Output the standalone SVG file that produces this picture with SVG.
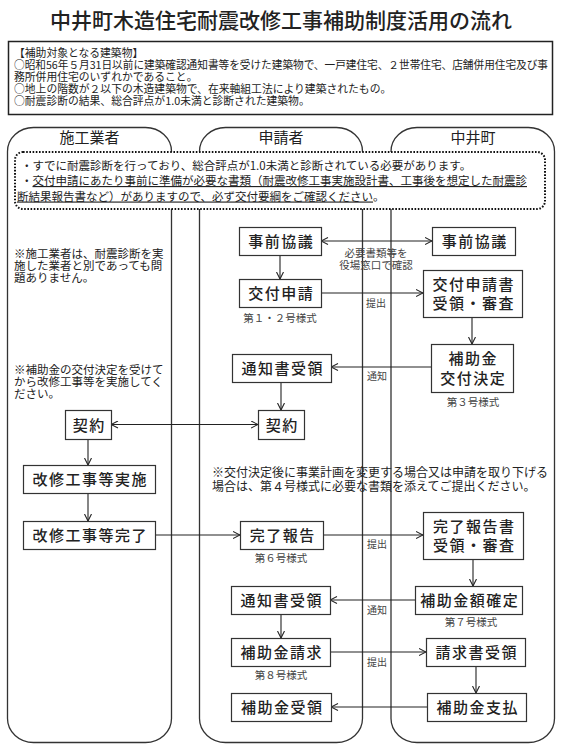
<svg xmlns="http://www.w3.org/2000/svg" width="562" height="749" viewBox="0 0 562 749">
<style>
text { font-family: "Noto Sans CJK JP", "Noto Sans CJK SC", sans-serif; fill: #222; }
.title { font-size: 21px; text-anchor: middle; font-weight: 500; }
.info { font-size: 10.8px; }
.dot { font-size: 11.5px; }
.note { font-size: 11.5px; }
.head { font-size: 15px; text-anchor: middle; }
.lane { fill: #fff; stroke: #333; stroke-width: 1.3; }
.node rect { fill: #fff; stroke: #333; stroke-width: 1.2; }
.node text { font-size: 15px; letter-spacing: 1.5px; text-anchor: middle; font-weight: 500; }
.sub { font-size: 10.5px; fill: #444; text-anchor: middle; }
.gap { font-size: 10px; fill: #444; text-anchor: middle; }
.conn line { stroke: #222; stroke-width: 1.1; fill: none; marker-end: url(#ah); }
.conn line.both { marker-start: url(#ah); }
</style>
<defs>
<marker id="ah" viewBox="0 0 8 8" refX="7.5" refY="4" markerWidth="8" markerHeight="8" markerUnits="userSpaceOnUse" orient="auto-start-reverse">
<path d="M0.5,0.5 L7.5,4 L0.5,7.5" fill="none" stroke="#222" stroke-width="1.1"/>
</marker>
</defs>
<rect width="562" height="749" fill="#fff"/>
<text class="title" x="281" y="28">中井町木造住宅耐震改修工事補助制度活用の流れ</text>
<g id="info">
<rect x="8.5" y="41.5" width="544" height="73" fill="#fff" stroke="#222" stroke-width="1.5"/>
<text class="info"><tspan x="14" y="57">【補助対象となる建築物】</tspan><tspan x="14" y="69" textLength="534" lengthAdjust="spacingAndGlyphs">○昭和56年５月31日以前に建築確認通知書等を受けた建築物で、一戸建住宅、２世帯住宅、店舗併用住宅及び事</tspan><tspan x="14" y="81">務所併用住宅のいずれかであること。</tspan><tspan x="14" y="93">○地上の階数が２以下の木造建築物で、在来軸組工法により建築されたもの。</tspan><tspan x="14" y="105">○耐震診断の結果、総合評点が1.0未満と診断された建築物。</tspan></text>
</g>
<g id="lanes">
<g id="lane-contractor"><rect class="lane" x="7.5" y="127.5" width="164" height="615" rx="26" ry="24"/><text class="head" x="89.5" y="143">施工業者</text></g>
<g id="lane-applicant"><rect class="lane" x="199.5" y="127.5" width="163" height="615" rx="26" ry="24"/><text class="head" x="281" y="143">申請者</text></g>
<g id="lane-town"><rect class="lane" x="391" y="127.5" width="163.5" height="615" rx="26" ry="24"/><text class="head" x="473" y="143">中井町</text></g>
</g>
<g id="notice">
<rect x="15" y="152" width="530" height="57" rx="8" fill="#fff" stroke="#111" stroke-width="2" stroke-dasharray="1.6 1.6"/>
<text class="dot"><tspan x="21" y="169.5">・すでに耐震診断を行っており、総合評点が1.0未満と診断されている必要があります。</tspan><tspan x="21" y="185">・</tspan><tspan text-decoration="underline">交付申請にあたり事前に準備が必要な書類（耐震改修工事実施設計書、工事後を想定した耐震診</tspan><tspan x="17" y="200.5" text-decoration="underline">断結果報告書など）がありますので、必ず交付要綱をご確認ください</tspan><tspan>。</tspan></text>
</g>
<g id="notes">
<text class="note"><tspan x="14" y="258">※施工業者は、耐震診断を実</tspan><tspan x="14" y="270">施した業者と別であっても問</tspan><tspan x="14" y="282">題ありません。</tspan></text>
<text class="note"><tspan x="14" y="374">※補助金の交付決定を受けて</tspan><tspan x="14" y="386">から改修工事等を実施してく</tspan><tspan x="14" y="398">ださい。</tspan></text>
<text class="note" style="font-size:12px"><tspan x="212" y="477">※交付決定後に事業計画を変更する場合又は申請を取り下げる</tspan><tspan x="212" y="491">場合は、第４号様式に必要な書類を添えてご提出ください。</tspan></text>
</g>
<g class="conn" id="connectors">
<line class="both" x1="321" y1="241" x2="432" y2="241"/>
<line x1="280" y1="255" x2="280" y2="279"/>
<line x1="321" y1="293" x2="423" y2="293"/>
<line x1="472" y1="317" x2="472" y2="344"/>
<line x1="431" y1="367" x2="331" y2="367"/>
<line x1="281" y1="382" x2="281" y2="410"/>
<line class="both" x1="111" y1="424.5" x2="258" y2="424.5"/>
<line x1="88" y1="439" x2="88" y2="465"/>
<line x1="88" y1="493" x2="88" y2="521"/>
<line x1="155" y1="535" x2="240" y2="535"/>
<line x1="323" y1="535" x2="423" y2="535"/>
<line x1="473" y1="559" x2="473" y2="586"/>
<line x1="415" y1="600" x2="330" y2="600"/>
<line x1="281" y1="614" x2="281" y2="638"/>
<line x1="330" y1="652" x2="426" y2="652"/>
<line x1="476" y1="666" x2="476" y2="693"/>
<line x1="427" y1="707" x2="331" y2="707"/>
</g>
<g id="labels">
<text class="gap" style="font-size:10.5px"><tspan x="376" y="257">必要書類等を</tspan><tspan x="376" y="269">役場窓口で確認</tspan></text>
<text class="gap" x="376" y="307">提出</text>
<text class="gap" x="377" y="380">通知</text>
<text class="gap" x="377" y="548">提出</text>
<text class="gap" x="377" y="614">通知</text>
<text class="gap" x="377" y="666">提出</text>
<text class="sub" x="280" y="322">第１・２号様式</text>
<text class="sub" x="473" y="406">第３号様式</text>
<text class="sub" x="281" y="562">第６号様式</text>
<text class="sub" x="471" y="626">第７号様式</text>
<text class="sub" x="281" y="679">第８号様式</text>
</g>
<g class="node" id="n-jizen-a"><rect x="239.5" y="227.5" width="82" height="28"/><text x="281.25" y="247">事前協議</text></g>
<g class="node" id="n-jizen-t"><rect x="432.5" y="227.5" width="83" height="28"/><text x="474.75" y="247">事前協議</text></g>
<g class="node" id="n-koufu"><rect x="239.5" y="279.5" width="82" height="28"/><text x="281.25" y="299">交付申請</text></g>
<g class="node" id="n-koufu-t"><rect x="423.5" y="270.5" width="99" height="47"/><text><tspan x="473.75" y="289.5">交付申請書</tspan><tspan x="473.75" y="309">受領・審査</tspan></text></g>
<g class="node" id="n-kettei"><rect x="431.5" y="344.5" width="82" height="48"/><text><tspan x="473.25" y="363.5">補助金</tspan><tspan x="473.25" y="384">交付決定</tspan></text></g>
<g class="node" id="n-tsuchi1"><rect x="232.5" y="354.5" width="99" height="28"/><text x="282.75" y="374">通知書受領</text></g>
<g class="node" id="n-keiyaku-c"><rect x="65.5" y="410.5" width="46" height="29"/><text x="89.25" y="430.5">契約</text></g>
<g class="node" id="n-keiyaku-a"><rect x="258.5" y="410.5" width="46" height="29"/><text x="282.25" y="430.5">契約</text></g>
<g class="node" id="n-jisshi"><rect x="23.5" y="465.5" width="132" height="28"/><text x="90.25" y="485">改修工事等実施</text></g>
<g class="node" id="n-kanryo"><rect x="23.5" y="521.5" width="132" height="28"/><text x="90.25" y="541">改修工事等完了</text></g>
<g class="node" id="n-hokoku"><rect x="240.5" y="521.5" width="83" height="28"/><text x="282.75" y="541">完了報告</text></g>
<g class="node" id="n-hokoku-t"><rect x="423.5" y="512.5" width="100" height="47"/><text><tspan x="474.25" y="531.5">完了報告書</tspan><tspan x="474.25" y="551">受領・審査</tspan></text></g>
<g class="node" id="n-kakutei"><rect x="415.5" y="586.5" width="107" height="28"/><text x="469.75" y="606">補助金額確定</text></g>
<g class="node" id="n-tsuchi2"><rect x="231.5" y="586.5" width="99" height="28"/><text x="281.75" y="606">通知書受領</text></g>
<g class="node" id="n-seikyu"><rect x="231.5" y="638.5" width="99" height="28"/><text x="281.75" y="658">補助金請求</text></g>
<g class="node" id="n-seikyu-t"><rect x="426.5" y="638.5" width="99" height="28"/><text x="476.75" y="658">請求書受領</text></g>
<g class="node" id="n-juryo"><rect x="231.5" y="693.5" width="100" height="28"/><text x="282.25" y="713">補助金受領</text></g>
<g class="node" id="n-shiharai"><rect x="427.5" y="693.5" width="99" height="28"/><text x="477.75" y="713">補助金支払</text></g>
</svg>
